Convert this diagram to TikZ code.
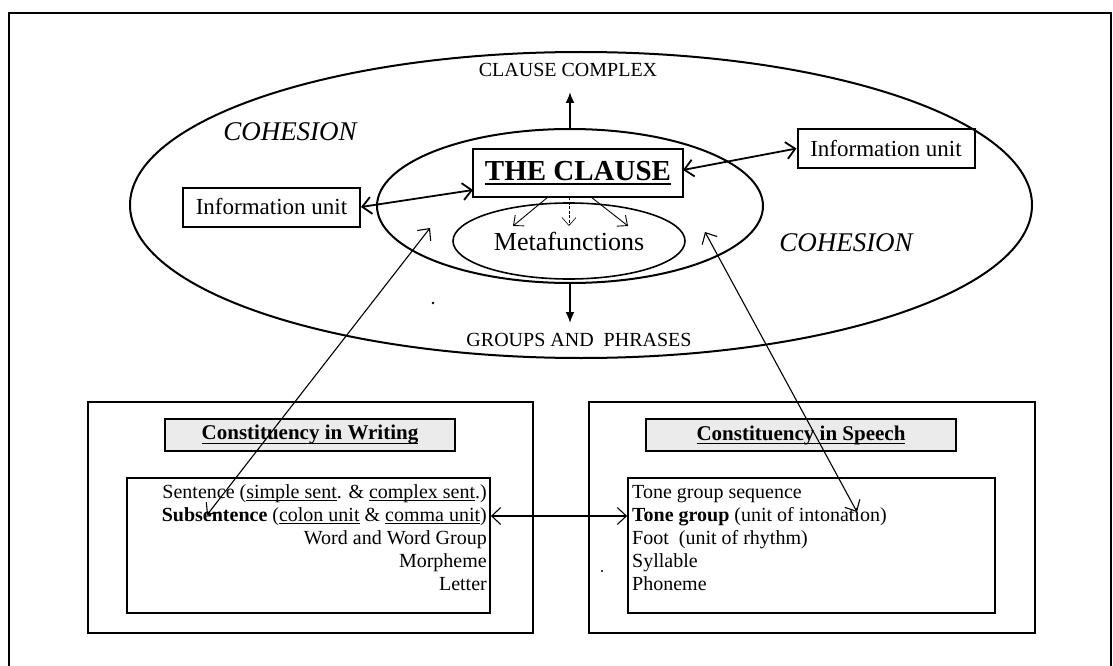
\documentclass[tikz,border=0pt]{standalone}
\usepackage{fontspec}
\setmainfont{Liberation Serif}
\usetikzlibrary{shapes.geometric,arrows.meta}
\newcommand{\myul}[3]{\setbox0\hbox{#3}\leavevmode\rlap{\rule[-#1]{\wd0}{#2}}\box0\relax}
\tikzset{
  frameline/.style={draw, line width=2.5pt},
  outerbox/.style={draw, line width=1.8pt, inner sep=0pt},
  innerbox/.style={draw, line width=1.8pt, inner sep=0pt},
  ibox/.style={draw, line width=2pt, inner sep=0pt, minimum width=177pt, minimum height=39pt, font=\fontsize{23}{26}\selectfont},
  titlebox/.style={draw, line width=2.5pt, fill=black!8, inner sep=0pt, minimum height=32pt, font=\bfseries\fontsize{21}{24}\selectfont},
  ell/.style={ellipse, draw, line width=2pt, inner sep=0pt},
  lst/.style={inner sep=0pt, text height=14pt, text depth=4pt, font=\fontsize{20}{23}\selectfont},
  lab/.style={inner sep=0pt, font=\fontsize{20}{24}\selectfont},
  coh/.style={inner sep=0pt, font=\itshape\fontsize{27}{30}\selectfont},
  twoway/.style={line width=1.1pt, {Straight Barb[length=9pt,width=17pt]}-{Straight Barb[length=9pt,width=17pt]}},
  infoarrow/.style={line width=1.8pt, {Straight Barb[length=9pt,width=17pt]}-{Straight Barb[length=9pt,width=17pt]}},
  oneway/.style={line width=0.9pt, -{Straight Barb[length=8pt,width=14pt]}},
  boldarrow/.style={line width=1.8pt, -{Latex[length=11pt,width=9pt]}},
}
\begin{document}
\begin{tikzpicture}[x=1pt,y=-1pt]
\useasboundingbox (0,0) rectangle (1113,666);
% outer frame (bottom edge lies below the visible area)
\draw[frameline] (9,690) -- (9,13) -- (1111,13) -- (1111,690);

% ellipses
\node[ell, minimum width=902pt, minimum height=306pt] (big) at (581,205) {};
\node[ell, minimum width=386pt, minimum height=154pt] (inner) at (570,206) {};
\node[ell, line width=1.6pt, minimum width=232pt, minimum height=76pt, font=\fontsize{26}{30}\selectfont] (meta) at (569,241) {Metafunctions};

% labels
\node[lab] (cc) at (568,70) {CLAUSE COMPLEX};
\node[lab] (gp) at (579,340) {GROUPS AND~~PHRASES};
\node[coh] (coh1) at (290,132) {COHESION};
\node[coh] (coh2) at (846,243) {COHESION};

% boxes
\node[draw, line width=2.5pt, inner sep=0pt, minimum width=210pt, minimum height=48pt,
      font=\bfseries\fontsize{29}{32}\selectfont] (clause) at (578,173)
      {\myul{5pt}{2.2pt}{THE CLAUSE}};
\node[ibox] (linfo) at (271.5,207) {Information unit};
\node[ibox] (rinfo) at (886,148.5) {Information unit};

% connectors in the top part
\coordinate (clw) at (473,190);
\coordinate (cle) at (683,170);
\draw[infoarrow] (linfo.east) -- (clw);
\draw[infoarrow] (rinfo.west) -- (cle);

\coordinate (ccTip) at (570,92);
\coordinate (gpTip) at (570,323);
\draw[boldarrow] (inner.north) -- (ccTip);
\draw[boldarrow] (inner.south) -- (gpTip);

\coordinate (m1s) at (548,197);
\coordinate (m1e) at (513,226);
\coordinate (m2s) at (569,197);
\coordinate (m2e) at (569,226);
\coordinate (m3s) at (591,197);
\coordinate (m3e) at (628,226);
\draw[oneway] (m1s) -- (m1e);
\draw[oneway, line width=0.6pt, dash pattern=on 3pt off 1.5pt] (m2s) -- (m2e);
\draw[oneway] (m3s) -- (m3e);

% scan specks
\fill (433,303) circle[radius=1.4pt];
\fill (602,571) circle[radius=1.2pt];

% bottom boxes
\node[outerbox, minimum width=445pt, minimum height=231pt] (wout) at (310.5,517.5) {};
\node[outerbox, minimum width=446pt, minimum height=231pt] (sout) at (812,517.5) {};
\node[titlebox, minimum width=290pt] (wtitle) at (310,435)
   {\myul{4pt}{1.4pt}{Constituency in Writing}};
\node[titlebox, minimum width=310pt] (stitle) at (801,435)
   {\myul{4pt}{1.4pt}{Constituency in Speech}};
\node[innerbox, minimum width=363pt, minimum height=135pt] (win) at (308.5,545.5) {};
\node[innerbox, minimum width=367pt, minimum height=135pt] (sin) at (811.5,545.5) {};

% writing list (right aligned)
\node[lst, anchor=east] (w1) at (487,493) {Sentence (\myul{3pt}{0.9pt}{simple sent}. \& \myul{3pt}{0.9pt}{complex sent}.)};
\node[lst, anchor=east] (w2) at (487,516) {\textbf{Subsentence} (\myul{3pt}{0.9pt}{colon unit} \& \myul{3pt}{0.9pt}{comma unit})};
\node[lst, anchor=east] (w3) at (487,539) {Word and Word Group};
\node[lst, anchor=east] (w4) at (487,562) {Morpheme};
\node[lst, anchor=east] (w5) at (487,585) {Letter};

% speech list (left aligned)
\node[lst, anchor=west] (s1) at (632,493) {Tone group sequence};
\node[lst, anchor=west] (s2) at (632,516) {\textbf{Tone group} (unit of intonation)};
\node[lst, anchor=west] (s3) at (632,539) {Foot~~(unit of rhythm)};
\node[lst, anchor=west] (s4) at (632,562) {Syllable};
\node[lst, anchor=west] (s5) at (632,585) {Phoneme};

% connectors between the parts
\draw[twoway] (win.east |- w2) -- (sin.west |- s2);
\coordinate (wa) at (207,515);
\coordinate (ea) at (430,228);
\coordinate (eb) at (705,232);
\coordinate (sb) at (857,512);
\draw[twoway] (wa) -- (ea);
\draw[twoway] (eb) -- (sb);
\end{tikzpicture}
\end{document}
